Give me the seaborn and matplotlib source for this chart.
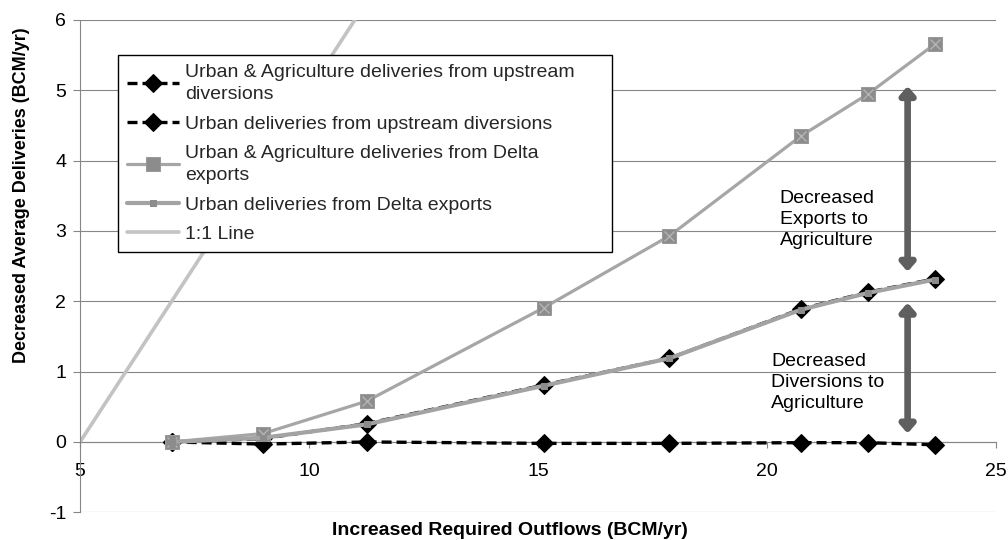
"""
Decreased deliveries vs increased required outflows,
upstream diversions and Delta exports
"""
import numpy as np
import pandas as pd
import matplotlib
matplotlib.use('Agg')
import matplotlib.pyplot as plt
import seaborn as sns

# outflow values (x) shared by all series
outflows = [7.0, 9.0, 11.26, 15.13, 17.87, 20.74, 22.21, 23.67]

ua_upstream = [0.0, 0.05, 0.26, 0.81, 1.19, 1.89, 2.13, 2.32]
urban_upstream = [0.0, -0.03, 0.0, -0.02, -0.02, -0.01, -0.01, -0.04]
ua_delta = [0.0, 0.12, 0.58, 1.91, 2.93, 4.35, 4.95, 5.66]
urban_delta = [0.0, 0.06, 0.25, 0.80, 1.19, 1.88, 2.12, 2.31]

one_to_one_x = [5, 11]
one_to_one_y = [0, 6]

labels = ['Urban & Agriculture deliveries from upstream\ndiversions',
          'Urban deliveries from upstream diversions',
          'Urban & Agriculture deliveries from Delta\nexports',
          'Urban deliveries from Delta exports',
          '1:1 Line']

df = pd.DataFrame({'outflow': outflows,
                   'ua_upstream': ua_upstream,
                   'urban_upstream': urban_upstream,
                   'ua_delta': ua_delta,
                   'urban_delta': urban_delta})

sns.set_theme(style='white')
plt.rcParams['font.family'] = ['Liberation Sans', 'DejaVu Sans']
plt.rcParams['axes.unicode_minus'] = False

fig = plt.figure(figsize=(10.08, 5.4), dpi=100)
ax = fig.add_axes([0.0794, 0.0513, 0.9087, 0.9117])

grid_col = '#868686'
dash = (0, (3, 1.5))

# black dashed lines with diamonds
sns.lineplot(data=df, x='outflow', y='ua_upstream', ax=ax, color='black',
             lw=2.4, linestyle=dash, marker='D', markersize=9,
             markeredgecolor='black', markerfacecolor='black', zorder=3)
sns.lineplot(data=df, x='outflow', y='urban_upstream', ax=ax, color='black',
             lw=2.4, linestyle=dash, marker='D', markersize=9,
             markeredgecolor='black', markerfacecolor='black', zorder=3)
# gray delta export lines
sns.lineplot(data=df, x='outflow', y='ua_delta', ax=ax, color='#a6a6a6',
             lw=2.3, marker='s', markersize=10, markerfacecolor='#8c8c8c',
             markeredgecolor='#9a9a9a', zorder=4)
ax.plot(df['outflow'], df['ua_delta'], linestyle='none', marker='x',
        markersize=7, mew=1, color='#b4b4b4', zorder=5)
sns.lineplot(data=df, x='outflow', y='urban_delta', ax=ax, color='#a3a3a3',
             lw=3.0, marker='s', markersize=4, markerfacecolor='#8c8c8c',
             markeredgecolor='#8c8c8c', zorder=6)
sns.lineplot(x=one_to_one_x, y=one_to_one_y, ax=ax, color='#c3c3c3', lw=2.6,
             zorder=2)

lines = ax.get_lines()
handles = [lines[0], lines[1], lines[2], lines[4], lines[5]]

ax.set_xlim(5, 25)
ax.set_ylim(-1, 6)
ax.set_xticks([5, 10, 15, 20, 25])
ax.set_yticks(range(-1, 7))
ax.grid(axis='y', color=grid_col, lw=0.8)
ax.grid(axis='x', visible=False)
ax.spines['top'].set_visible(False)
ax.spines['right'].set_visible(False)
ax.spines['bottom'].set_position(('data', 0))
ax.spines['bottom'].set_color(grid_col)
ax.spines['left'].set_color(grid_col)
ax.spines['bottom'].set_linewidth(0.8)
ax.spines['left'].set_linewidth(0.8)
ax.tick_params(axis='x', direction='out', length=4, width=0.8, color=grid_col,
               pad=11, labelsize=14, labelcolor='black', bottom=True)
ax.tick_params(axis='y', direction='out', length=5, width=0.8, color=grid_col,
               pad=5, labelsize=14, labelcolor='black', left=True)

ax.set_xlabel('Increased Required Outflows (BCM/yr)', fontsize=14,
              fontweight='bold', color='black')
ax.set_ylabel('Decreased Average Deliveries (BCM/yr)', fontsize=13,
              fontweight='bold', color='black')
ax.xaxis.set_label_coords(0.469, -0.019)
ax.yaxis.set_label_coords(-0.055, 0.645)

# arrows and notes
arrow_col = '#5f5f5f'
ax.annotate('', xy=(23.07, 5.06), xytext=(23.07, 2.42),
            arrowprops=dict(arrowstyle='<|-|>,head_length=0.4,head_width=0.35',
                            lw=4.8, color=arrow_col, shrinkA=0, shrinkB=0))
ax.annotate('', xy=(23.07, 1.98), xytext=(23.07, 0.12),
            arrowprops=dict(arrowstyle='<|-|>,head_length=0.4,head_width=0.35',
                            lw=4.8, color=arrow_col, shrinkA=0, shrinkB=0))
ax.text(20.28, 3.16, 'Decreased\nExports to\nAgriculture', fontsize=14,
        ha='left', va='center', linespacing=1.3, color='black')
ax.text(20.09, 0.84, 'Decreased\nDiversions to\nAgriculture', fontsize=14,
        ha='left', va='center', linespacing=1.3, color='black')

leg = ax.legend(handles, labels, loc='upper left',
                bbox_to_anchor=(118 / 1008, 0.898, 494 / 1008, 0.0),
                bbox_transform=fig.transFigure, mode='expand', fontsize=14,
                frameon=True, fancybox=False, framealpha=1, edgecolor='black',
                borderpad=0.45, borderaxespad=0, labelspacing=0.62,
                handlelength=2.7, handletextpad=0.3)
leg.get_frame().set_linewidth(1.0)
for t in leg.get_texts():
    t.set_linespacing(1.4)

fig.savefig('out.png', dpi=100)
